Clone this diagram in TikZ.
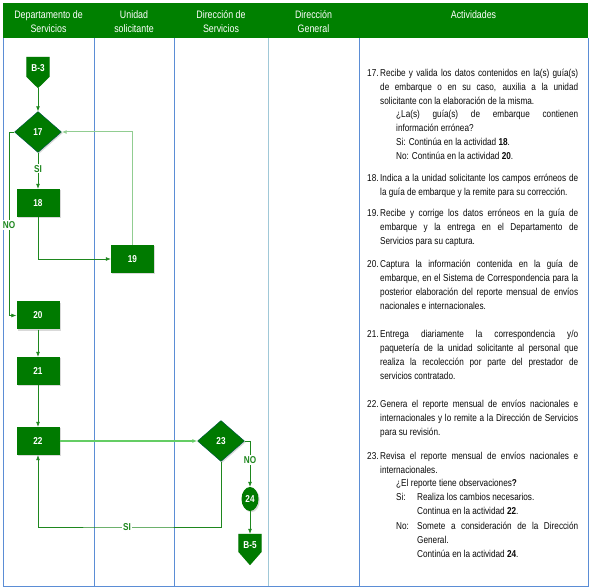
\documentclass[tikz,border=0pt]{standalone}
\usepackage{fontspec}
\setmainfont{Liberation Sans}[FakeStretch=0.82]
\usetikzlibrary{arrows.meta,shapes.geometric,shadows,calc}
\definecolor{hdr}{RGB}{0,128,0}
\definecolor{ngreen}{RGB}{0,122,0}
\definecolor{lgreen}{RGB}{30,135,30}
\definecolor{pale}{RGB}{145,205,145}
\definecolor{bright}{RGB}{100,205,100}
\definecolor{colblue}{RGB}{91,141,213}
\definecolor{colpale}{RGB}{160,200,215}
\definecolor{txt}{RGB}{10,10,10}
\begin{document}
\begin{tikzpicture}[x=1pt,y=-1pt,
  sh/.style={drop shadow={shadow xshift=1.2pt,shadow yshift=-1.2pt,fill=black!25,opacity=.6}},
  box/.style={rectangle, fill=ngreen, minimum width=43, minimum height=28, inner sep=0,
    font=\bfseries\fontsize{10}{11}\selectfont, text=white, sh},
  dec/.style={diamond, fill=ngreen, draw=ngreen!70!blue, line width=.4pt, minimum width=47, minimum height=41, inner sep=0,
    font=\bfseries\fontsize{10}{11}\selectfont, text=white, sh},
  ovl/.style={ellipse, fill=ngreen, minimum width=17, minimum height=24, inner sep=0,
    font=\bfseries\fontsize{10}{11}\selectfont, text=white, sh},
  offp/.style={rectangle, minimum width=23, minimum height=31, inner sep=0},
  offt/.style={font=\bfseries\fontsize{10}{11}\selectfont, text=white, inner sep=0},
  lbl/.style={fill=white, inner sep=1pt, text=lgreen, font=\bfseries\fontsize{10}{11}\selectfont},
  flow/.style={draw=lgreen, line width=.7pt, -{Latex[length=5pt,width=4pt]}},
  colline/.style={draw=colblue, line width=.7pt},
  hdrtxt/.style={text=white, align=center, font=\fontsize{10.8}{13.5}\selectfont, inner sep=0},
  act/.style={anchor=north west, inner sep=0, align=justify, text=txt, font=\fontsize{10}{14}\selectfont}
]
\useasboundingbox (0,0) rectangle (590,588);
% header
\fill[hdr] (3,3) rectangle (588,38);
\node[hdrtxt] (h1) at (48.5,21.5) {Departamento de\\Servicios};
\node[hdrtxt] (h2) at (134,21.5) {Unidad\\solicitante};
\node[hdrtxt] (h3) at (221,21.5) {Dirección de\\Servicios};
\node[hdrtxt] (h4) at (313.5,21.5) {Dirección\\General};
\node[hdrtxt] (h5) at (473.5,15) {Actividades};
% columns
\draw[colline] (3,38) -- (3,586) -- (588,586) -- (588,38);
\draw[colline] (94,38) -- (94,586);
\draw[colline] (174,38) -- (174,586);
\draw[draw=colpale, line width=.7pt] (268,38) -- (268,586);
\draw[colline] (359,38) -- (359,586);

% nodes
\node[offp] (b3) at (38,72.5) {};
\fill[black!25,opacity=.6,shift={(1.2,1.2)}] (b3.north west) -- (b3.north east) -- ($(b3.north east)+(0,20)$) -- (b3.south) -- ($(b3.north west)+(0,20)$) -- cycle;
\fill[ngreen] (b3.north west) -- (b3.north east) -- ($(b3.north east)+(0,20)$) -- (b3.south) -- ($(b3.north west)+(0,20)$) -- cycle;
\node[offt] (b3t) at (38,68) {B-3};

\node[dec] (d17) at (38,132) {17};
\node[box] (b18) at (38,203) {18};
\node[box] (b19) at (132.5,259) {19};
\node[box] (b20) at (38,315.5) {20};
\node[box] (b21) at (38,371) {21};
\node[box] (b22) at (38,441) {22};
\node[dec] (d23) at (221,441) {23};
\node[ovl] (c24) at (250,499) {24};
\node[offp] (b5) at (250,549.5) {};
\fill[black!25,opacity=.6,shift={(1.2,1.2)}] (b5.north west) -- (b5.north east) -- ($(b5.north east)+(0,18)$) -- (b5.south) -- ($(b5.north west)+(0,18)$) -- cycle;
\fill[ngreen] (b5.north west) -- (b5.north east) -- ($(b5.north east)+(0,18)$) -- (b5.south) -- ($(b5.north west)+(0,18)$) -- cycle;
\node[offt] (b5t) at (250,545) {B-5};

% connectors
\draw[flow] (b3.south) -- (d17.north);
\draw[flow] (d17.south) -- (b18.north) node[lbl, pos=.45] (si1) {SI};
\draw[flow] (b18.south) |- (b19.west);
\draw[flow, draw=pale, line width=1pt] (b19.north) |- (d17.east);
\coordinate (no1c) at (9,132);
\draw[flow] (d17.west) -- (no1c) |- (b20.west);
\node[lbl] (no1) at (9,225) {NO};
\draw[flow] (b20) -- (b21);
\draw[flow] (b21) -- (b22);
\draw[flow, draw=bright, line width=1.4pt] (b22.east) -- (d23.west);
\coordinate (si2c) at (127,527);
\draw[flow] (d23.south) |- (si2c) -| (b22.south);
\node[lbl] (si2) at (si2c) {SI};
\draw[flow] (d23.east) -| (c24.north);
\node[lbl] (no2) at (250,460) {NO};
\draw[flow] (c24.south) -- (b5.north);

% activities
\node[act, text width=211] (a17) at (367,68.5) {\noindent\hangindent=13pt\hangafter=1\makebox[13pt][l]{17.}Recibe y valida los datos contenidos en la(s) guía(s)\linebreak de embarque o en su caso, auxilia a la unidad\linebreak solicitante con la elaboración de la misma.\par};
\node[act, text width=182] (a17b) at (396,109.5) {¿La(s) guía(s) de embarque contienen\linebreak información errónea?\\Si: Continúa en la actividad \textbf{18}.\\No: Continúa en la actividad \textbf{20}.\par};
\node[act, text width=211] (a18) at (367,173.5) {\noindent\hangindent=13pt\hangafter=1\makebox[13pt][l]{18.}Indica a la unidad solicitante los campos erróneos de\linebreak la guía de embarque y la remite para su corrección.\par};
\node[act, text width=211] (a19) at (367,208.5) {\noindent\hangindent=13pt\hangafter=1\makebox[13pt][l]{19.}Recibe y corrige los datos erróneos en la guía de\linebreak embarque y la entrega en el Departamento de\linebreak Servicios para su captura.\par};
\node[act, text width=211] (a20) at (367,259.5) {\noindent\hangindent=13pt\hangafter=1\makebox[13pt][l]{20.}Captura la información contenida en la guía de\linebreak embarque, en el Sistema de Correspondencia para la\linebreak posterior elaboración del reporte mensual de envíos\linebreak nacionales e internacionales.\par};
\node[act, text width=211] (a21) at (367,330.5) {\noindent\hangindent=13pt\hangafter=1\makebox[13pt][l]{21.}Entrega diariamente la correspondencia y/o\linebreak paquetería de la unidad solicitante al personal que\linebreak realiza la recolección por parte del prestador de\linebreak servicios contratado.\par};
\node[act, text width=211] (a22) at (367,399.5) {\noindent\hangindent=13pt\hangafter=1\makebox[13pt][l]{22.}Genera el reporte mensual de envíos nacionales e\linebreak internacionales y lo remite a la Dirección de Servicios\linebreak para su revisión.\par};
\node[act, text width=211] (a23) at (367,451.5) {\noindent\hangindent=13pt\hangafter=1\makebox[13pt][l]{23.}Revisa el reporte mensual de envíos nacionales e\linebreak internacionales.\par};
\node[act, text width=182] (a23b) at (396,479.5) {¿El reporte tiene observaciones\textbf{?}\\\makebox[21pt][l]{Si:}Realiza los cambios necesarios.\\\hspace*{21pt}Continua en la actividad \textbf{22}.\par};
\node[act, text width=182] (a23c) at (396,521.5) {\noindent\hangindent=21pt\hangafter=1\makebox[21pt][l]{No:}Somete a consideración de la Dirección\linebreak General.\\Continúa en la actividad \textbf{24}.\par};
\end{tikzpicture}
\end{document}
